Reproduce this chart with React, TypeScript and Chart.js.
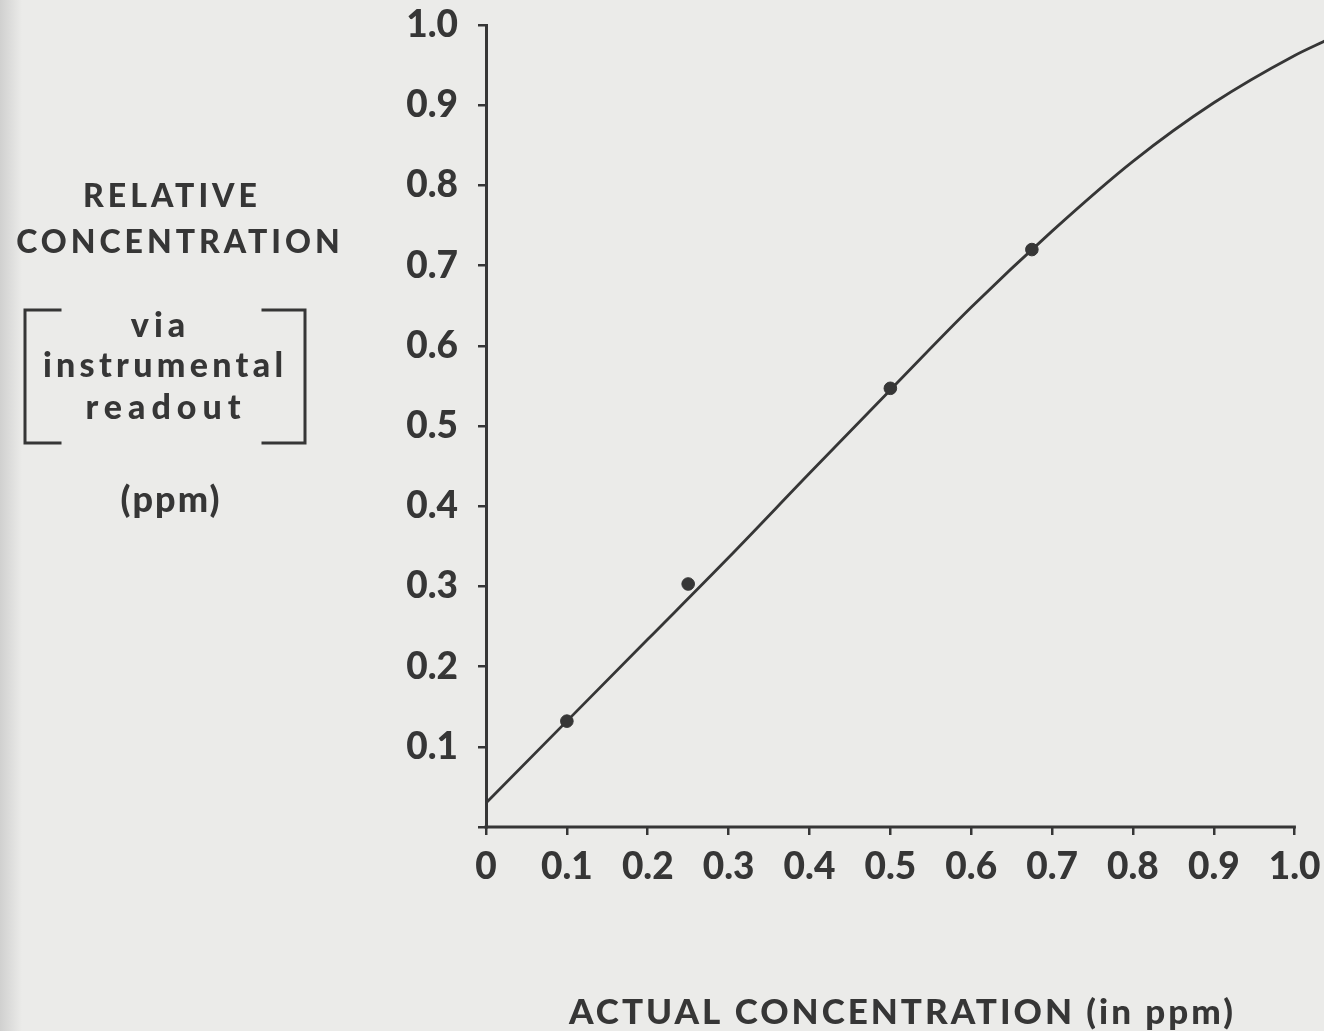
import React, { useEffect, useRef } from 'react';
import { Chart, registerables } from 'chart.js';

Chart.register(...registerables);

// ---- data ----
const pointX = [0.1, 0.25, 0.5, 0.675];
const pointY = [0.132, 0.303, 0.547, 0.72];

const curveX = [0, 0.1, 0.2, 0.3, 0.4, 0.5, 0.6, 0.7, 0.8, 0.9, 1.0, 1.037];
const curveY = [0.03, 0.132, 0.234, 0.336, 0.441, 0.545, 0.648, 0.743, 0.83, 0.903, 0.962, 0.98];

const xTickValues = [0, 0.1, 0.2, 0.3, 0.4, 0.5, 0.6, 0.7, 0.8, 0.9, 1.0];
const xTickLabels = ['0', '0.1', '0.2', '0.3', '0.4', '0.5', '0.6', '0.7', '0.8', '0.9', '1.0'];
const yTickLabels = ['', '0.1', '0.2', '0.3', '0.4', '0.5', '0.6', '0.7', '0.8', '0.9', '1.0'];

const yTitleLines = ['RELATIVE', 'CONCENTRATION'];
const yBracketLines = ['via', 'instrumental', 'readout'];
const yUnitLine = '(ppm)';
const xTitle = 'ACTUAL CONCENTRATION (in ppm)';

const INK = '#363636';
const PAPER = '#ebebe9';
const FONT = 'Lato, "Open Sans", sans-serif';
const X_AXIS_END = 1.0;
const X_SCALE_MAX = 1.0272;

function drawSpaced(ctx: CanvasRenderingContext2D, text: string, cx: number, y: number, font: string, spacing: number) {
  ctx.font = font;
  (ctx as any).letterSpacing = spacing + 'px';
  const w = ctx.measureText(text).width - spacing;
  ctx.textAlign = 'left';
  ctx.textBaseline = 'alphabetic';
  ctx.fillText(text, cx - w / 2, y);
  (ctx as any).letterSpacing = '0px';
}

const paperPlugin = {
  id: 'paper',
  beforeDraw(chart: any) {
    const { ctx, width, height } = chart;
    ctx.save();
    ctx.fillStyle = PAPER;
    ctx.fillRect(0, 0, width, height);
    const g = ctx.createLinearGradient(0, 0, 22, 0);
    g.addColorStop(0, 'rgba(190,190,190,0.6)');
    g.addColorStop(1, 'rgba(190,190,190,0)');
    ctx.fillStyle = g;
    ctx.fillRect(0, 0, 22, height);
    ctx.restore();
  },
};

const axisLinePlugin = {
  id: 'axisLine',
  afterDatasetsDraw(chart: any) {
    const ctx: CanvasRenderingContext2D = chart.ctx;
    const xs = chart.scales.x;
    const ys = chart.scales.y;
    const x0 = xs.getPixelForValue(0);
    const x1 = xs.getPixelForValue(X_AXIS_END);
    const y0 = ys.getPixelForValue(0);
    ctx.save();
    ctx.strokeStyle = INK;
    ctx.lineWidth = 3;
    ctx.beginPath();
    ctx.moveTo(x0 - 1.5, y0);
    ctx.lineTo(x1 + 1.2, y0);
    ctx.stroke();
    ctx.restore();
  },
};

const titlesPlugin = {
  id: 'titles',
  afterDraw(chart: any) {
    const ctx: CanvasRenderingContext2D = chart.ctx;
    ctx.save();
    ctx.fillStyle = INK;
    const capFont = `900 32px ${FONT}`;
    drawSpaced(ctx, yTitleLines[0], 170, 207, capFont, 4);
    drawSpaced(ctx, yTitleLines[1], 178, 253, capFont, 4);
    const lowFont = `900 34px ${FONT}`;
    drawSpaced(ctx, yBracketLines[0], 158, 337, lowFont, 5);
    drawSpaced(ctx, yBracketLines[1], 163, 377, lowFont, 4.3);
    drawSpaced(ctx, yBracketLines[2], 163, 419, lowFont, 6);
    drawSpaced(ctx, yUnitLine, 170, 512, `900 36px ${FONT}`, 2);

    // brackets
    ctx.strokeStyle = INK;
    ctx.lineWidth = 3;
    ctx.lineCap = 'square';
    ctx.beginPath();
    ctx.moveTo(60, 310); ctx.lineTo(25, 310); ctx.lineTo(25, 443); ctx.lineTo(60, 443);
    ctx.moveTo(263, 310); ctx.lineTo(305, 310); ctx.lineTo(305, 443); ctx.lineTo(263, 443);
    ctx.stroke();

    drawSpaced(ctx, xTitle, 901, 1024, `900 35px ${FONT}`, 3);
    ctx.restore();
  },
};

export default function App() {
  const ref = useRef<HTMLCanvasElement | null>(null);

  useEffect(() => {
    document.body.style.margin = '0';
    const canvas = ref.current;
    if (!canvas) return;
    const tickFont = { family: FONT, weight: 900 as any, size: 37 };
    const chart = new Chart(canvas, {
      type: 'scatter',
      data: {
        datasets: [
          {
            type: 'line' as const,
            data: curveX.map((x, i) => ({ x, y: curveY[i] })),
            borderColor: INK,
            borderWidth: 2.8,
            pointRadius: 0,
            cubicInterpolationMode: 'monotone' as const,
            fill: false,
            clip: { left: false, right: false, top: false, bottom: false } as any,
            order: 2,
          },
          {
            type: 'scatter' as const,
            data: pointX.map((x, i) => ({ x, y: pointY[i] })),
            backgroundColor: INK,
            borderColor: INK,
            borderWidth: 1,
            pointRadius: 6.3,
            pointHoverRadius: 6.3,
            order: 1,
          },
        ],
      },
      options: {
        responsive: false,
        animation: false,
        events: [],
        layout: { padding: { top: 25, right: 0, left: 0, bottom: 0 } },
        plugins: { legend: { display: false }, tooltip: { enabled: false } },
        scales: {
          x: {
            type: 'linear',
            min: 0,
            max: X_SCALE_MAX,
            afterBuildTicks: (s: any) => { s.ticks = xTickValues.map((v) => ({ value: v })); },
            ticks: {
              autoSkip: false,
              maxRotation: 0,
              color: INK,
              font: tickFont,
              padding: 10,
              callback: (_v: any, i: number) => xTickLabels[i],
            },
            grid: { drawOnChartArea: false, drawTicks: true, tickLength: 8, color: INK, lineWidth: 2.5 },
            border: { display: false },
            afterFit: (s: any) => { s.height = 204; s.paddingLeft = 0; s.paddingRight = 0; },
          },
          y: {
            type: 'linear',
            min: 0,
            max: 1,
            ticks: {
              stepSize: 0.1,
              autoSkip: false,
              color: INK,
              font: tickFont,
              padding: 20,
              callback: (_v: any, i: number) => yTickLabels[i],
            },
            grid: { drawOnChartArea: false, drawTicks: true, tickLength: 8, color: INK, lineWidth: 2.5 },
            border: { display: true, color: INK, width: 3 },
            afterFit: (s: any) => { s.width = 486; s.paddingTop = 0; s.paddingBottom = 0; },
          },
        },
      },
      plugins: [paperPlugin, axisLinePlugin, titlesPlugin],
    } as any);
    return () => chart.destroy();
  }, []);

  return <canvas ref={ref} width={1324} height={1031} style={{ display: 'block' }} />;
}
